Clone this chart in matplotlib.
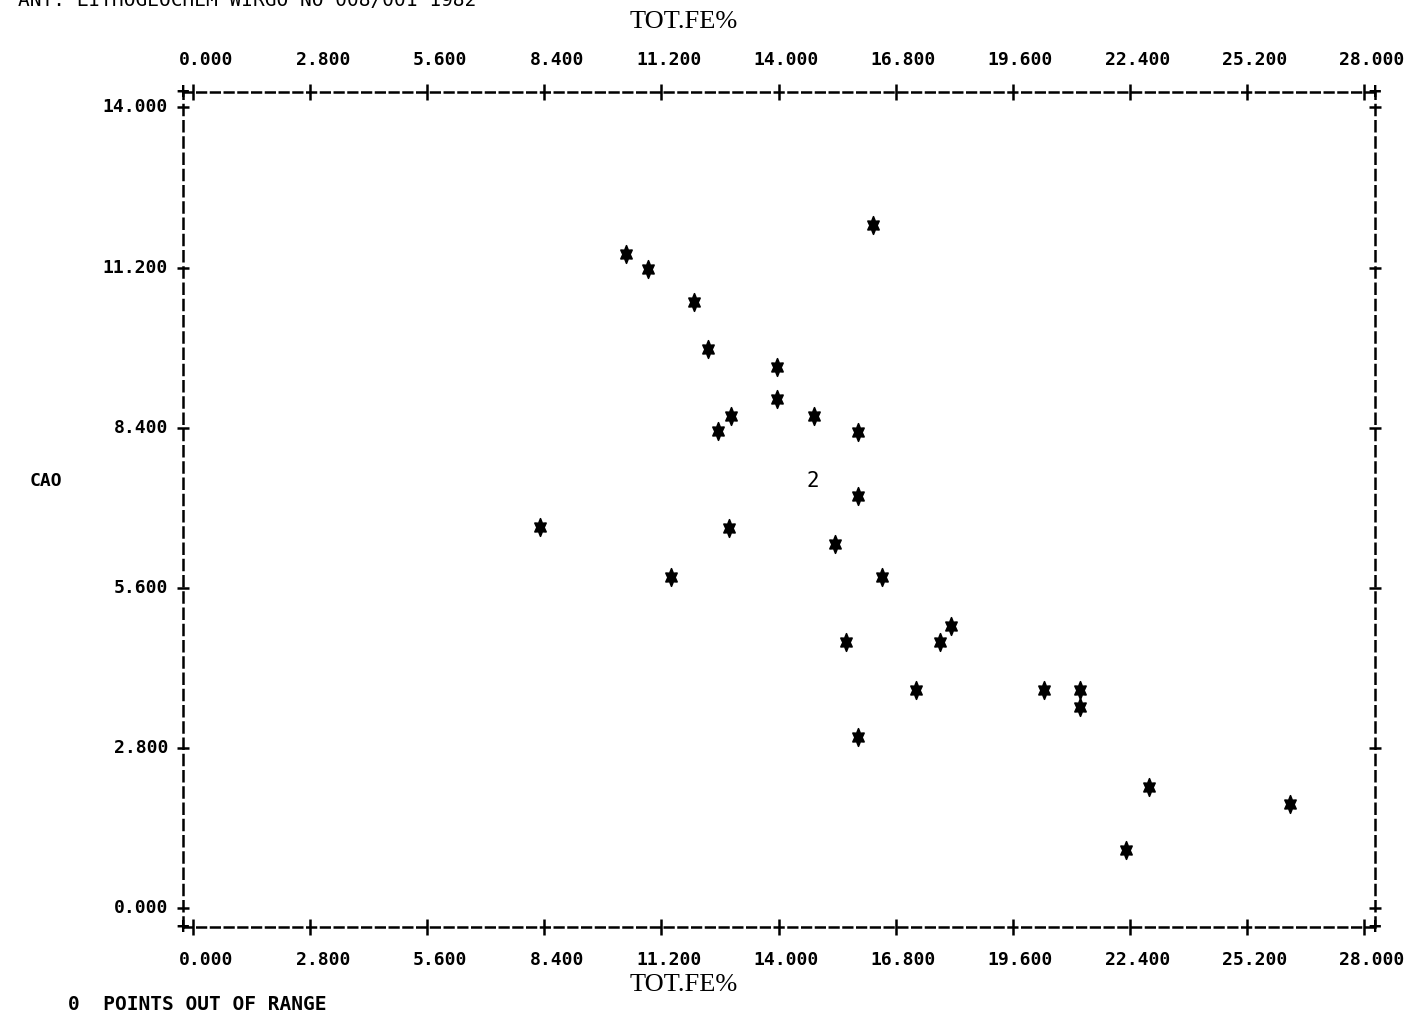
import matplotlib
matplotlib.use("Agg")
import matplotlib.pyplot as plt
import numpy as np
from matplotlib.path import Path
from matplotlib.transforms import ScaledTranslation, blended_transform_factory

# data (TOT.FE% vs CAO)
fe_pct = [8.30, 10.35, 10.88, 11.43, 11.98, 12.31, 12.55, 12.86, 12.82, 13.96,
          13.96, 14.85, 15.90, 15.90, 16.26, 15.35, 16.48, 15.61, 15.90, 17.29,
          17.86, 18.13, 20.35, 21.21, 21.21, 22.31, 22.86, 26.23]
cao = [6.66, 11.43, 11.17, 5.79, 10.59, 9.77, 8.34, 8.60, 6.64, 9.46,
       8.90, 8.60, 8.32, 7.20, 11.94, 6.36, 5.79, 4.65, 2.99, 3.81,
       4.65, 4.93, 3.81, 3.81, 3.51, 1.01, 2.12, 1.82]

# coincident points are printed as a count instead of a star
dup_fe = [14.83]
dup_cao = [7.47]
dup_count = [2]

x_ticks = [0.0, 2.8, 5.6, 8.4, 11.2, 14.0, 16.8, 19.6, 22.4, 25.2, 28.0]
y_ticks = [0.0, 2.8, 5.6, 8.4, 11.2, 14.0]

header = "ANT: LITHOGEOCHEM WIRGO NO 008/001 1982"
x_title = "TOT.FE%"
y_title = "CAO"
footer = "0  POINTS OUT OF RANGE"

W, H = 1409, 1019
fig = plt.figure(figsize=(W / 100, H / 100), dpi=100)
ax = fig.add_axes([183 / W, 1 - 927 / H, (1375 - 183) / W, (927 - 92) / H])

ax.set_xlim(-0.24, 28.26)
ax.set_ylim(-0.33, 14.27)

# printer star glyph: 6 point star stretched vertically
ang = np.pi / 2 + np.arange(12) * np.pi / 6
rad = np.where(np.arange(12) % 2 == 0, 1.0, 0.55)
verts = np.column_stack([rad * np.cos(ang) * 0.85, rad * np.sin(ang) * 1.15])
verts = np.vstack([verts, verts[:1]])
codes = [Path.MOVETO] + [Path.LINETO] * 11 + [Path.CLOSEPOLY]
star = Path(verts, codes)

ax.scatter(fe_pct, cao, marker=star, s=160, color="black", linewidths=1.2,
           edgecolors="black", zorder=3)
for fx, cy, n in zip(dup_fe, dup_cao, dup_count):
    ax.text(fx, cy, str(n), ha="center", va="center", fontsize=15,
            family="DejaVu Sans Mono", color="black")

# dashed frame like the line printer output
for s in ["top", "bottom"]:
    ax.spines[s].set_linestyle((0, (3.5, 2)))
    ax.spines[s].set_linewidth(1.8)
for s in ["left", "right"]:
    ax.spines[s].set_linestyle((0, (4, 2.5)))
    ax.spines[s].set_linewidth(1.8)

ax.set_xticks(x_ticks)
ax.set_yticks(y_ticks)
ax.tick_params(axis="x", which="both", top=True, bottom=True, direction="inout",
               length=11, width=1.8, labelbottom=False, labeltop=False)
ax.tick_params(axis="y", which="both", left=True, right=True, direction="inout",
               length=9, width=1.8, labelleft=False, labelright=False)

tick_font = dict(family="DejaVu Sans Mono", fontsize=13, fontweight="bold")
xtr = blended_transform_factory(ax.transData, ax.transAxes)
off = ScaledTranslation(0.40, 0, fig.dpi_scale_trans)
for v in x_ticks:
    ax.text(v, 1, "%.3f" % v, transform=xtr + off + ScaledTranslation(0, 0.32, fig.dpi_scale_trans),
            ha="right", va="center", clip_on=False, **tick_font)
    ax.text(v, 0, "%.3f" % v, transform=xtr + off + ScaledTranslation(0, -0.33, fig.dpi_scale_trans),
            ha="right", va="center", clip_on=False, **tick_font)

ytr = blended_transform_factory(ax.transAxes, ax.transData)
for v in y_ticks:
    ax.text(0, v, "%.3f" % v, transform=ytr + ScaledTranslation(-0.15, 0, fig.dpi_scale_trans),
            ha="right", va="center", clip_on=False, **tick_font)

# corner plus signs
for cx in [0, 1]:
    for cy in [0, 1]:
        ax.text(cx, cy, "+", transform=ax.transAxes, ha="center", va="center",
                fontsize=15, fontweight="bold", family="DejaVu Sans Mono", clip_on=False)

title_font = dict(family="Liberation Serif", fontsize=19, color="black")
fig.text(630 / W, 1 - 22 / H, x_title, ha="left", va="center", **title_font)
fig.text(630 / W, 1 - 985 / H, x_title, ha="left", va="center", **title_font)
fig.text(30 / W, 1 - 481 / H, y_title, ha="left", va="center", **tick_font)
fig.text(68 / W, 1 - 1005 / H, footer, ha="left", va="center",
         family="DejaVu Sans Mono", fontsize=14, fontweight="bold")
# header line is cut off by the top edge in the printout
fig.text(18 / W, 1 - 1 / H, header, ha="left", va="center",
         family="DejaVu Sans Mono", fontsize=14)

fig.savefig("out.png", dpi=100)
